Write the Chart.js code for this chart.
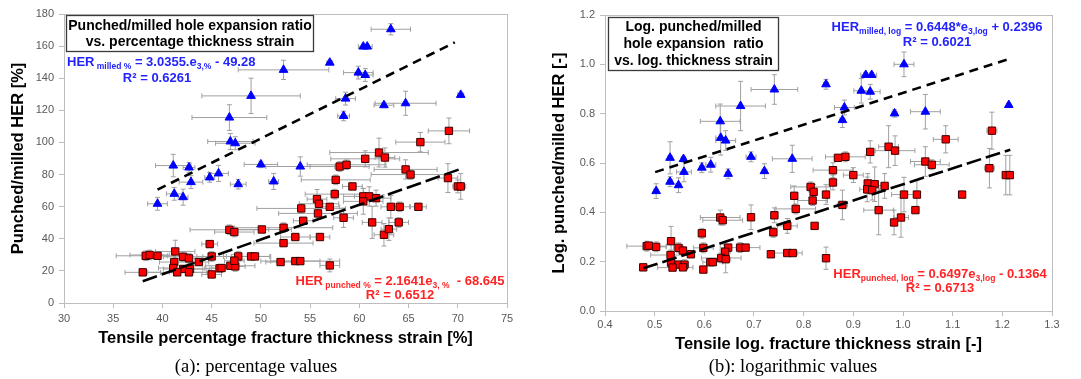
<!DOCTYPE html>
<html>
<head>
<meta charset="utf-8">
<script src="https://cdn.jsdelivr.net/npm/chart.js@4.4.1/dist/chart.umd.min.js"></script>
<style>
  body { margin: 0; background: #fff; }
  #wrap { position: relative; width: 1081px; height: 379px; }
  canvas { position: absolute; top: 0; }
  .cap { position: absolute; top: 356px; width: 300px; line-height: 21px; text-align: center;
         font: 18.5px "Liberation Serif", "Times New Roman", serif; color: #000; }
</style>
</head>
<body>
<div id="wrap">
  <canvas id="chartA" width="540" height="379" style="left:0"></canvas>
  <canvas id="chartB" width="541" height="379" style="left:540px"></canvas>
  <div class="cap" style="left:106px">(a): percentage values</div>
  <div class="cap" style="left:643px">(b): logarithmic values</div>
</div>
<script>
// (a) percentage values: [thickness strain %, HER %, x error, y error]
var pctMilled = [
  [63.2,170.5,2.0,3.5],[60.4,159.7,0.5,1],[60.8,159.7,0.5,1],[57.0,149.7,0.3,1],
  [52.3,145.2,4.6,6],[59.9,143.5,1.5,4],[60.6,142.0,0.8,4],[49.0,129.0,5.0,11],
  [70.3,129.6,0.3,1],[58.6,127.3,1.0,4],[62.5,123.2,1.0,1.5],[64.7,124.4,3.1,7.5],
  [58.4,116.5,0.6,3],[46.8,115.5,3.8,8],[46.9,100.6,2.3,5],[47.4,99.5,2.0,4],
  [41.1,85.6,1.8,7],[42.7,84.4,0.6,3],[50.0,86.3,1.7,2],[54.0,85.0,3.5,6],
  [45.7,80.7,1.0,5],[44.8,78.2,0.5,3],[42.9,75.3,1.2,4],[47.7,74.0,0.8,3],
  [51.3,75.7,0.5,5],[41.2,68.0,0.8,4],[42.1,65.9,0.5,5],[39.5,61.8,1.0,4]
];
var pctPunched = [
  [69.1,107.2,2.1,8],[66.2,100.2,2.5,6],[62.0,93.7,5.0,9],[62.6,90.6,1.0,6],
  [60.6,89.8,3.5,5],[58.0,85.0,3.0,3],[58.7,86.1,4.0,3],[64.7,83.2,3.2,6],
  [65.2,80.0,4.0,3],[69.0,77.8,1.0,9],[70.0,72.6,0.5,4],[70.3,72.6,0.5,8],
  [57.6,76.7,3.5,3],[59.3,72.6,1.0,2],[57.5,67.8,3.0,3],[55.7,64.7,1.0,6],
  [55.9,61.8,2.0,3],[55.8,55.8,4.0,3],[57.0,59.9,1.0,2],[54.1,58.9,4.5,3],
  [54.3,51.2,1.0,2],[58.4,53.1,1.0,6],[60.4,66.4,2.0,5],[61.0,66.4,1.5,6],
  [60.4,63.3,2.0,8],[61.7,65.3,1.5,5],[61.3,50.2,1.0,10],[63.2,59.9,1.0,7],
  [64.1,59.9,1.0,3],[66.0,59.9,0.8,2],[64.0,50.2,1.0,3],[62.5,42.5,1.0,7],
  [63.0,46.0,0.8,7],[56.0,41.1,1.0,2],[53.5,41.1,1.5,2],[52.3,46.9,5.0,3],
  [52.3,37.3,3.0,2],[50.1,45.8,3.0,2],[46.8,45.6,4.0,3],[47.3,44.2,2.0,3],
  [44.8,36.7,0.8,2],[41.3,32.1,2.0,7],[38.3,29.4,3.0,3],[38.7,29.9,2.0,3],
  [39.5,29.4,1.0,2],[42.1,28.8,2.0,3],[42.7,27.8,1.5,3],[45.0,29.0,1.5,3],
  [47.7,29.0,1.5,3],[49.0,29.0,2.0,2],[49.4,29.0,1.5,2],[41.2,25.5,1.5,5],
  [43.7,25.5,1.0,2],[52.0,25.5,1.5,2],[53.5,26.1,2.5,2],[54.0,26.1,4.0,2],
  [57.0,23.4,1.0,4],[41.1,21.8,1.5,3],[42.1,21.2,2.0,2],[42.8,21.2,2.0,2],
  [45.8,21.6,1.5,2],[46.0,21.8,1.0,2],[46.9,23.2,2.5,2],[47.4,22.8,1.0,3],
  [47.3,26.3,1.0,4],[41.5,19.1,3.0,2],[42.7,19.1,2.0,2],[38.0,19.1,1.8,2],
  [45.0,17.8,1.0,2]
];
// (b) logarithmic values: [log thickness strain, log HER, x error, y error]
var logMilled = [
  [1.002,1.000,0.02,0.05],[0.925,0.957,0.01,0.01],[0.937,0.957,0.01,0.01],[0.845,0.919,0.005,0.02],
  [0.916,0.893,0.015,0.05],[0.934,0.889,0.02,0.03],[0.741,0.898,0.047,0.06],[1.213,0.835,0.003,0.005],
  [1.045,0.808,0.03,0.07],[0.983,0.801,0.005,0.015],[0.882,0.825,0.02,0.03],[0.878,0.774,0.005,0.03],
  [0.673,0.831,0.05,0.1],[0.632,0.769,0.04,0.07],[0.633,0.702,0.01,0.07],[0.643,0.691,0.02,0.04],
  [0.531,0.621,0.005,0.065],[0.558,0.616,0.005,0.01],[0.694,0.625,0.01,0.02],[0.777,0.617,0.04,0.055],
  [0.613,0.593,0.01,0.03],[0.595,0.581,0.005,0.02],[0.559,0.564,0.015,0.04],[0.721,0.567,0.005,0.03],
  [0.648,0.556,0.005,0.02],[0.531,0.524,0.005,0.02],[0.548,0.510,0.005,0.03],[0.503,0.486,0.005,0.03]
];
var logPunched = [
  [1.179,0.731,0.01,0.075],[1.086,0.696,0.025,0.055],[0.971,0.666,0.02,0.085],[0.984,0.650,0.04,0.06],
  [0.934,0.645,0.005,0.045],[0.884,0.625,0.04,0.02],[0.869,0.621,0.005,0.01],[1.045,0.606,0.03,0.06],
  [1.058,0.593,0.035,0.02],[1.174,0.579,0.01,0.08],[0.859,0.571,0.04,0.03],[0.900,0.551,0.02,0.03],
  [1.207,0.551,0.005,0.08],[1.215,0.551,0.005,0.08],[0.859,0.521,0.005,0.03],[0.929,0.517,0.005,0.04],
  [0.943,0.514,0.005,0.07],[0.963,0.507,0.005,0.05],[0.814,0.503,0.04,0.02],[0.928,0.493,0.015,0.05],
  [0.938,0.490,0.015,0.04],[0.820,0.483,0.005,0.03],[0.845,0.472,0.005,0.04],[1.002,0.472,0.025,0.07],
  [1.028,0.472,0.005,0.06],[1.119,0.472,0.005,0.005],[0.781,0.467,0.005,0.04],[0.818,0.448,0.03,0.02],
  [0.784,0.414,0.04,0.02],[0.878,0.430,0.01,0.06],[0.951,0.409,0.03,0.1],[1.025,0.409,0.005,0.01],
  [0.996,0.379,0.015,0.08],[0.982,0.359,0.005,0.05],[0.694,0.380,0.005,0.05],[0.632,0.379,0.04,0.03],
  [0.637,0.368,0.04,0.02],[0.741,0.388,0.005,0.03],[0.595,0.315,0.005,0.02],[0.739,0.319,0.005,0.02],
  [0.767,0.345,0.02,0.03],[0.822,0.345,0.005,0.01],[0.533,0.283,0.005,0.06],[0.484,0.263,0.04,0.02],
  [0.488,0.265,0.005,0.01],[0.503,0.260,0.02,0.02],[0.548,0.256,0.01,0.02],[0.557,0.245,0.005,0.01],
  [0.598,0.256,0.02,0.02],[0.648,0.257,0.005,0.01],[0.672,0.257,0.04,0.02],[0.683,0.257,0.005,0.01],
  [0.573,0.230,0.005,0.01],[0.532,0.227,0.04,0.02],[0.642,0.240,0.01,0.03],[0.734,0.230,0.005,0.01],
  [0.767,0.235,0.03,0.01],[0.778,0.235,0.01,0.01],[0.634,0.215,0.04,0.02],[0.643,0.210,0.01,0.055],
  [0.845,0.214,0.005,0.045],[0.612,0.198,0.005,0.01],[0.617,0.198,0.02,0.01],[0.533,0.196,0.005,0.02],
  [0.548,0.188,0.02,0.01],[0.560,0.188,0.005,0.02],[0.536,0.176,0.03,0.01],[0.557,0.177,0.02,0.01],
  [0.477,0.177,0.005,0.01],[0.598,0.168,0.005,0.01]
];
// trend line ends
var pctMilledFit = [[39.5, 70.6], [69.7, 162.3]];
var pctPunchedFit = [[38.0, 13.6], [70.1, 83.1]];
var logMilledFit = [[0.501, 0.563], [1.209, 1.019]];
var logPunchedFit = [[0.477, 0.173], [1.216, 0.654]];

// axis ranges [min, max, step]
var pctXAxis = [30, 75, 5], pctYAxis = [0, 180, 20];
var logXAxis = [0.4, 1.3, 0.1], logYAxis = [0, 1.2, 0.2];

var SANS = '"Liberation Sans", Arial, sans-serif';
var AXIS_GREY = '#bdbdbd';
var EQ_FONT = 'bold 13px ' + SANS, SUB_FONT = 'bold 8.5px ' + SANS;

function pts(rows) { return rows.map(function(r){ return {x: r[0], y: r[1]}; }); }
function errs(rows) { return rows.map(function(r){ return [r[2], r[3]]; }); }

// grey error bars, drawn under the markers
var errorBars = {
  id: 'errorBars',
  beforeDatasetsDraw: function(chart) {
    var ctx = chart.ctx, xs = chart.scales.x, ys = chart.scales.y;
    ctx.save();
    ctx.strokeStyle = '#a0a0a0';
    ctx.lineWidth = 1;
    chart.data.datasets.forEach(function(ds) {
      if (!ds.errors) return;
      ds.data.forEach(function(p, i) {
        var e = ds.errors[i];
        var x = xs.getPixelForValue(p.x), y = ys.getPixelForValue(p.y);
        var x1 = xs.getPixelForValue(p.x - e[0]), x2 = xs.getPixelForValue(p.x + e[0]);
        var y1 = ys.getPixelForValue(p.y - e[1]), y2 = ys.getPixelForValue(p.y + e[1]);
        ctx.beginPath();
        ctx.moveTo(x1, y); ctx.lineTo(x2, y);
        ctx.moveTo(x1, y - 2.5); ctx.lineTo(x1, y + 2.5);
        ctx.moveTo(x2, y - 2.5); ctx.lineTo(x2, y + 2.5);
        ctx.moveTo(x, y1); ctx.lineTo(x, y2);
        ctx.moveTo(x - 2.5, y1); ctx.lineTo(x + 2.5, y1);
        ctx.moveTo(x - 2.5, y2); ctx.lineTo(x + 2.5, y2);
        ctx.stroke();
      });
    });
    ctx.restore();
  }
};

function drawRich(ctx, parts, x, y, align) {
  var w = 0;
  parts.forEach(function(p) {
    ctx.font = p[1] ? SUB_FONT : EQ_FONT;
    w += ctx.measureText(p[0]).width;
  });
  var cx = align === 'center' ? x - w / 2 : x;
  parts.forEach(function(p) {
    ctx.font = p[1] ? SUB_FONT : EQ_FONT;
    ctx.fillText(p[0], cx, p[1] ? y + 3 : y);
    cx += ctx.measureText(p[0]).width;
  });
}

// plot frame, title box and regression equations
var notes = {
  id: 'notes',
  beforeDatasetsDraw: function(chart) {
    var a = chart.chartArea, ctx = chart.ctx;
    ctx.save();
    ctx.strokeStyle = AXIS_GREY;
    ctx.lineWidth = 1;
    ctx.strokeRect(a.left + 0.5, a.top + 0.5, a.right - a.left, a.bottom - a.top);
    ctx.restore();
  },
  afterDraw: function(chart, args, opts) {
    var ctx = chart.ctx, b = opts.box;
    ctx.save();
    ctx.fillStyle = '#fff';
    ctx.fillRect(b.x, b.y, b.w, b.h);
    ctx.strokeStyle = '#3a3a3a';
    ctx.lineWidth = 1.3;
    ctx.strokeRect(b.x, b.y, b.w, b.h);
    ctx.fillStyle = '#000';
    ctx.font = 'bold 14px ' + SANS;
    ctx.textAlign = 'center';
    ctx.textBaseline = 'middle';
    b.lines.forEach(function(t, i) { ctx.fillText(t, b.x + b.w / 2, b.y + b.first + i * b.step); });
    ctx.textAlign = 'left';
    ctx.textBaseline = 'alphabetic';
    opts.eqs.forEach(function(q) {
      ctx.fillStyle = q.color;
      drawRich(ctx, q.parts, q.x, q.y, q.align);
      ctx.font = EQ_FONT;
      ctx.textAlign = 'center';
      ctx.fillText(q.r2, q.rx, q.ry);
      ctx.textAlign = 'left';
    });
    ctx.restore();
  }
};

function axis(range, title, fitSize, horizontal, tickPad, titlePad, decimals) {
  return {
    type: 'linear',
    min: range[0], max: range[1],
    afterFit: function(s) { if (horizontal) s.height = fitSize; else s.width = fitSize; },
    ticks: {
      stepSize: range[2], padding: tickPad, color: '#595959',
      font: {family: SANS, size: 11},
      callback: function(v) { return v.toFixed(decimals); }
    },
    grid: {display: true, drawOnChartArea: false, drawTicks: true, tickLength: 5, color: AXIS_GREY},
    border: {display: true, color: AXIS_GREY},
    title: {
      display: true, text: title, color: '#000',
      font: {family: SANS, size: 16.5, weight: 'bold'},
      padding: horizontal ? {top: 0, bottom: 0} : {top: titlePad, bottom: 0}
    }
  };
}

function makeChart(id, milled, punched, milledFit, punchedFit, scales, padding, noteOpts) {
  return new Chart(document.getElementById(id), {
    type: 'scatter',
    data: {
      datasets: [
        {data: pts(milledFit), showLine: true, pointRadius: 0, borderColor: '#000',
         borderWidth: 2.6, borderDash: [9, 6]},
        {data: pts(punchedFit), showLine: true, pointRadius: 0, borderColor: '#000',
         borderWidth: 2.6, borderDash: [15, 5]},
        {data: pts(milled), errors: errs(milled), pointStyle: 'triangle', pointRadius: 5,
         backgroundColor: '#0000ff', borderColor: '#0000ff', borderWidth: 1},
        {data: pts(punched), errors: errs(punched), pointStyle: 'rect', pointRadius: 5.2,
         backgroundColor: '#ff0000', borderColor: '#3a0000', borderWidth: 1}
      ]
    },
    options: {
      responsive: false,
      animation: false,
      layout: {padding: padding},
      scales: scales,
      plugins: {legend: {display: false}, tooltip: {enabled: false}, notes: noteOpts}
    },
    plugins: [errorBars, notes]
  });
}

var BLUE = '#2323ff', RED = '#ff2424';

makeChart('chartA', pctMilled, pctPunched, pctMilledFit, pctPunchedFit, {
  x: axis(pctXAxis, 'Tensile percentage fracture thickness strain [%]', 45, true, 4, 0, 0),
  y: axis(pctYAxis, 'Punched/milled HER [%]', 64, false, 5, 9, 0)
}, {left: 0, right: 33, top: 14, bottom: 31}, {
  box: {x: 66.5, y: 15.5, w: 247, h: 36, first: 10.5, step: 16.5,
        lines: ['Punched/milled hole expansion ratio', 'vs. percentage thickness strain']},
  eqs: [
    {color: BLUE, x: 67, y: 66, align: 'left',
     parts: [['HER', 0], [' milled %', 1], [' = 3.0355.e', 0], ['3,%', 1], [' - 49.28', 0]],
     r2: 'R\u00b2 = 0.6261', rx: 157, ry: 82},
    {color: RED, x: 400, y: 285, align: 'center',
     parts: [['HER', 0], [' punched %', 1], [' = 2.1641e', 0], ['3, %', 1], ['  - 68.645', 0]],
     r2: 'R\u00b2 = 0.6512', rx: 400, ry: 299}
  ]
});

makeChart('chartB', logMilled, logPunched, logMilledFit, logPunchedFit, {
  x: axis(logXAxis, 'Tensile log. fracture thickness strain [-]', 43, true, 2, 0, 1),
  y: axis(logYAxis, 'Log. punched/milled HER [-]', 65, false, 5, 10, 1)
}, {left: 0, right: 29, top: 15, bottom: 25}, {
  box: {x: 68.5, y: 17.5, w: 170, h: 53, first: 9.5, step: 17,
        lines: ['Log. punched/milled', 'hole expansion  ratio', 'vs. log. thickness strain']},
  eqs: [
    {color: BLUE, x: 397, y: 31, align: 'center',
     parts: [['HER', 0], ['milled, log', 1], [' = 0.6448*e', 0], ['3,log', 1], [' + 0.2396', 0]],
     r2: 'R\u00b2 = 0.6021', rx: 397, ry: 46},
    {color: RED, x: 400, y: 278, align: 'center',
     parts: [['HER', 0], ['punched, log', 1], [' = 0.6497e', 0], ['3,log', 1], [' - 0.1364', 0]],
     r2: 'R\u00b2 = 0.6713', rx: 400, ry: 292}
  ]
});
</script>
</body>
</html>
